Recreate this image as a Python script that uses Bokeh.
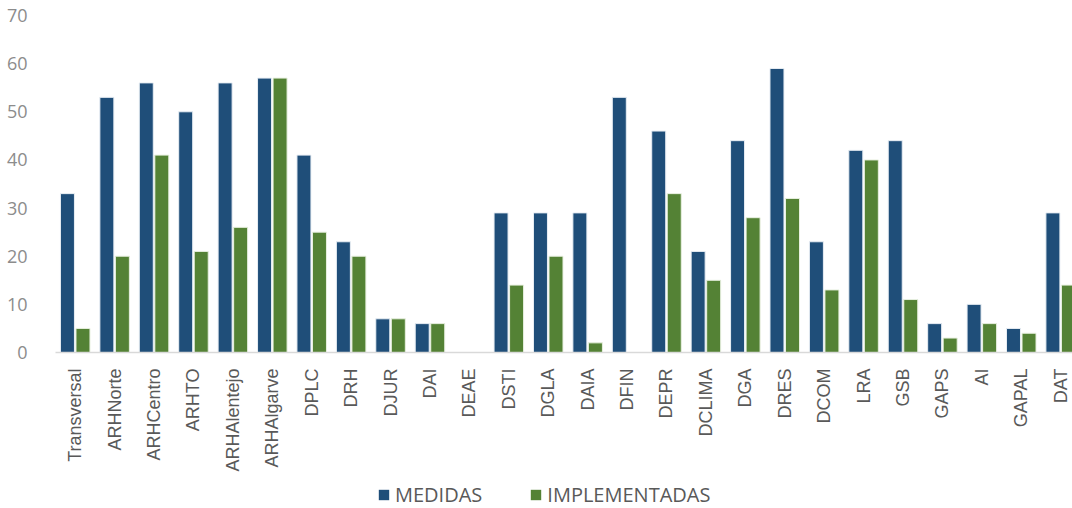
import math
from bokeh.plotting import figure
from bokeh.layouts import column
from bokeh.models import ColumnDataSource, Range1d, FixedTicker, Legend, LegendItem
from bokeh.embed import file_html
from bokeh.resources import INLINE

categories = ["Transversal", "ARHNorte", "ARHCentro", "ARHTO", "ARHAlentejo", "ARHAlgarve",
              "DPLC", "DRH", "DJUR", "DAI", "DEAE", "DSTI", "DGLA", "DAIA", "DFIN", "DEPR",
              "DCLIMA", "DGA", "DRES", "DCOM", "LRA", "GSB", "GAPS", "AI", "GAPAL", "DAT"]
medidas = [33, 53, 56, 50, 56, 57, 41, 23, 7, 6, 0, 29, 29, 29, 53, 46,
           21, 44, 59, 23, 42, 44, 6, 10, 5, 29]
implementadas = [5, 20, 41, 21, 26, 57, 25, 20, 7, 6, 0, 14, 20, 2, 0, 33,
                 15, 28, 32, 13, 40, 11, 3, 6, 4, 14]
y_ticks = [0, 10, 20, 30, 40, 50, 60, 70]
series_names = ["MEDIDAS", "IMPLEMENTADAS"]

BLUE = "#1F4E79"
GREEN = "#548235"

idx = list(range(len(categories)))
src = ColumnDataSource(dict(
    xm=[i - 0.197 for i in idx],
    xi=[i + 0.197 for i in idx],
    m=medidas, im=implementadas,
))

p = figure(width=1072, height=476, output_backend="svg", toolbar_location=None,
           x_range=Range1d(-0.5, 25.3), y_range=Range1d(0, 70),
           min_border_left=55, min_border_right=0, min_border_top=15, min_border_bottom=124)
p.outline_line_color = None
p.xgrid.visible = False
p.ygrid.visible = False

p.vbar(x="xm", top="m", width=0.355, source=src, fill_color=BLUE,
       line_color="#E8EEF4", line_width=1)
p.vbar(x="xi", top="im", width=0.355, source=src, fill_color=GREEN,
       line_color="#E8F0E0", line_width=1)

p.xaxis.ticker = FixedTicker(ticks=idx)
p.xaxis.major_label_overrides = {i: c for i, c in enumerate(categories)}
p.xaxis.major_label_orientation = math.pi / 2
p.xaxis.major_label_text_font = "Liberation Sans"
p.xaxis.major_label_text_font_size = "18px"
p.xaxis.major_label_text_color = "#595959"
p.xaxis.major_label_standoff = 10
p.xaxis.axis_line_color = "#D9D9D9"
p.xaxis.axis_line_width = 1.5
p.xaxis.major_tick_line_color = None
p.xaxis.minor_tick_line_color = None

p.yaxis.ticker = FixedTicker(ticks=y_ticks)
p.yaxis.major_label_text_font = "Open Sans"
p.yaxis.major_label_text_font_size = "18px"
p.yaxis.major_label_text_color = "#8C8C8C"
p.yaxis.major_label_standoff = 22
p.yaxis.axis_line_color = None
p.yaxis.major_tick_line_color = None
p.yaxis.minor_tick_line_color = None

# legend strip below the chart (swatch proxies lie outside the visible range)
p2 = figure(width=1072, height=32, output_backend="svg", toolbar_location=None,
            x_range=Range1d(0, 1), y_range=Range1d(0, 1),
            x_axis_location=None, y_axis_location=None,
            min_border_left=0, min_border_right=0, min_border_top=0, min_border_bottom=0)
p2.outline_line_color = None
p2.xgrid.visible = False
p2.ygrid.visible = False
proxy = ColumnDataSource(dict(x=[-5], top=[-5]))
d1 = p2.vbar(x="x", top="top", width=0.1, source=proxy, fill_color=BLUE, line_color=None)
d2 = p2.vbar(x="x", top="top", width=0.1, source=proxy, fill_color=GREEN, line_color=None)

legend = Legend(items=[LegendItem(label=series_names[0], renderers=[d1]),
                       LegendItem(label=series_names[1], renderers=[d2])],
                location=(322, 0), orientation="horizontal",
                label_text_font="Open Sans", label_text_font_size="20px",
                label_text_color="#595959", glyph_width=13, glyph_height=13,
                label_standoff=5, spacing=47, padding=0, margin=0,
                border_line_color=None, background_fill_alpha=0)
p2.add_layout(legend, "center")

open("out.html", "w").write(file_html(column(p, p2, spacing=0), INLINE))
